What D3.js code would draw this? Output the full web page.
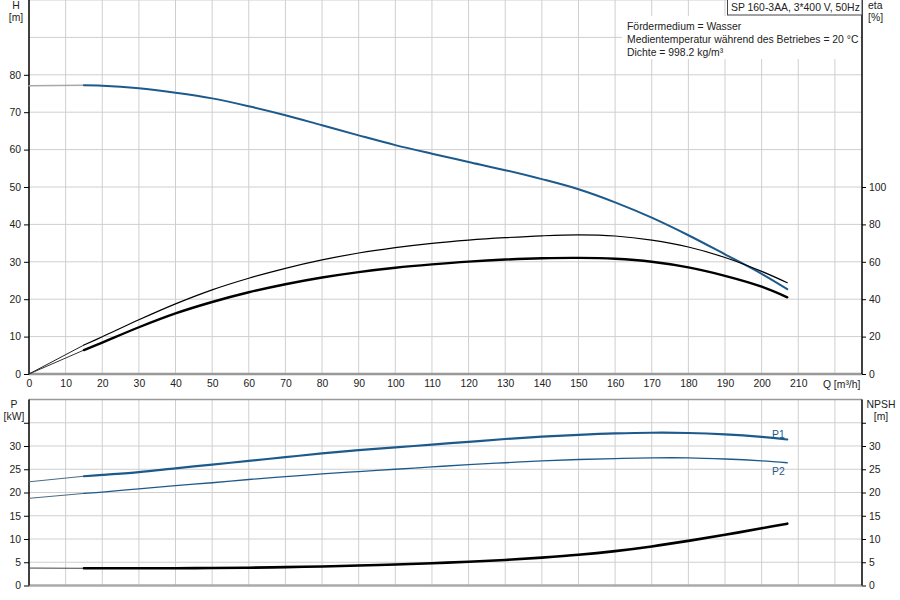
<!DOCTYPE html>
<html>
<head>
<meta charset="utf-8">
<script src="https://cdn.jsdelivr.net/npm/d3@7"></script>
<style>
  body { margin: 0; background: #fff; }
  svg { display: block; font-family: "Liberation Sans", Arial, sans-serif; }
  .grid line { stroke: #cfcfcf; stroke-width: 1; }
  .axis text { font-size: 10.4px; fill: #222; }
  .axis path { display: none; }
  .axis line { stroke: #000; }
  .lbl { font-size: 10.4px; fill: #222; }
</style>
</head>
<body>
<div id="chart"></div>
<script>
// flow points (m3/h) where the curves are drawn
const flow = [15, 20, 30, 40, 50, 60, 70, 80, 90, 100, 110, 120, 130, 140, 150, 160, 170, 180, 190, 200, 207];
const head = [77.2, 77.1, 76.4, 75.2, 73.7, 71.6, 69.2, 66.5, 63.8, 61.2, 58.9, 56.7, 54.5, 52.1, 49.4, 45.9, 41.8, 37.1, 32.0, 26.8, 22.7];
const etaPump = [15.5, 19.9, 29.0, 37.5, 45.0, 51.2, 56.5, 61.0, 64.7, 67.6, 69.9, 71.6, 72.9, 73.9, 74.4, 73.8, 71.6, 67.9, 62.3, 54.9, 48.8];
const etaTotal = [12.8, 16.8, 25.0, 32.4, 38.5, 43.7, 48.0, 51.6, 54.5, 56.8, 58.6, 60.1, 61.2, 61.9, 62.1, 61.6, 60.0, 57.0, 52.5, 46.7, 41.0];
const powerP1 = [23.5, 23.8, 24.4, 25.2, 26.0, 26.8, 27.6, 28.4, 29.1, 29.7, 30.3, 30.9, 31.5, 32.0, 32.4, 32.7, 32.85, 32.8, 32.5, 31.95, 31.4];
const powerP2 = [19.8, 20.1, 20.8, 21.5, 22.1, 22.8, 23.4, 24.0, 24.5, 25.0, 25.5, 26.0, 26.4, 26.8, 27.1, 27.3, 27.45, 27.45, 27.2, 26.8, 26.4];
const npsh = [3.7, 3.7, 3.7, 3.72, 3.76, 3.82, 3.95, 4.1, 4.3, 4.5, 4.8, 5.1, 5.5, 6.0, 6.6, 7.4, 8.4, 9.6, 10.9, 12.3, 13.3];

// thin extensions from Q = 0 to the start of the curves
const flowExt = [0, 15];
const headExt = [77.1, 77.2];
const etaPumpExt = [0, 15.5];
const etaTotalExt = [0, 12.8];
const p1Ext = [22.3, 23.5];
const p2Ext = [18.75, 19.8];
const npshExt = [3.75, 3.7];

const qTicks = [0, 10, 20, 30, 40, 50, 60, 70, 80, 90, 100, 110, 120, 130, 140, 150, 160, 170, 180, 190, 200, 210];
const hTicks = [0, 10, 20, 30, 40, 50, 60, 70, 80];
const etaTicks = [0, 20, 40, 60, 80, 100];
const pTicks = [0, 5, 10, 15, 20, 25, 30, 35];

const title = 'SP 160-3AA, 3*400 V, 50Hz';
const notes = ['Fördermedium = Wasser', 'Medientemperatur während des Betriebes = 20 °C', 'Dichte = 998.2 kg/m³'];

const W = 900, H = 600;
const left = 29, right = 862;
const blue = '#1d5a8c';

const svg = d3.select('#chart').append('svg').attr('width', W).attr('height', H);

const x = d3.scaleLinear().domain([0, 227.4]).range([left, right]);
const yH = d3.scaleLinear().domain([0, 100]).range([374, 0]);
const yEta = d3.scaleLinear().domain([0, 200]).range([374, 0]);
const yP = d3.scaleLinear().domain([0, 40]).range([585.5, 399.5]);

function grid(yScale, yVals, top, bottom) {
  const g = svg.append('g').attr('class', 'grid');
  g.selectAll('line.v').data(d3.range(10, 230, 10)).enter().append('line')
    .attr('x1', d => x(d)).attr('x2', d => x(d))
    .attr('y1', top).attr('y2', bottom);
  g.selectAll('line.h').data(yVals).enter().append('line')
    .attr('x1', left).attr('x2', right)
    .attr('y1', d => yScale(d)).attr('y2', d => yScale(d));
}

grid(yH, d3.range(10, 101, 10), 0, 374);
grid(yP, d3.range(5, 40, 5), 399.5, 585.5);

// top panel axes
svg.append('g').attr('class', 'axis').attr('transform', `translate(${left},0)`)
  .call(d3.axisLeft(yH).tickValues(hTicks).tickSize(5).tickPadding(3));
svg.append('g').attr('class', 'axis').attr('transform', `translate(${right},0)`)
  .call(d3.axisRight(yEta).tickValues(etaTicks).tickSize(4).tickPadding(3));
svg.append('g').attr('class', 'axis').attr('transform', 'translate(0,374)')
  .call(d3.axisBottom(x).tickValues(qTicks).tickSize(0).tickPadding(6));

// bottom panel axes
svg.append('g').attr('class', 'axis').attr('transform', `translate(${left},0)`)
  .call(d3.axisLeft(yP).tickValues(pTicks).tickSize(5).tickPadding(3)
    .tickFormat(d => d === 35 ? '' : d));
svg.append('g').attr('class', 'axis').attr('transform', `translate(${right},0)`)
  .call(d3.axisRight(yP).tickValues(pTicks).tickSize(4).tickPadding(3)
    .tickFormat(d => d === 35 ? '' : d));

// frame lines
const frame = svg.append('g');
frame.append('line').attr('x1', left).attr('x2', right).attr('y1', 374).attr('y2', 374)
  .attr('stroke', '#999').attr('stroke-width', 2.5);
frame.append('line').attr('x1', left).attr('x2', right).attr('y1', 585.5).attr('y2', 585.5)
  .attr('stroke', '#aaa').attr('stroke-width', 2.5);
frame.append('line').attr('x1', left).attr('x2', right).attr('y1', 399.5).attr('y2', 399.5)
  .attr('stroke', '#999').attr('stroke-width', 1.5);
[left, right].forEach(px => {
  frame.append('line').attr('x1', px).attr('x2', px).attr('y1', 0).attr('y2', 374)
    .attr('stroke', '#000').attr('stroke-width', 1.5);
  frame.append('line').attr('x1', px).attr('x2', px).attr('y1', 399.5).attr('y2', 585.5)
    .attr('stroke', '#000').attr('stroke-width', 1.5);
});

// Q unit label in place of the 220 tick
svg.append('text').attr('class', 'lbl').attr('x', x(220) - 12).attr('y', 388).text('Q [m³/h]');

// curves
function curve(qs, vals, yScale, color, width) {
  const pts = qs.map((q, i) => [x(q), yScale(vals[i])]);
  svg.append('path').datum(pts)
    .attr('d', d3.line().curve(d3.curveCatmullRom.alpha(0.5)))
    .attr('fill', 'none').attr('stroke', color).attr('stroke-width', width)
    .attr('stroke-linecap', 'round');
}

curve(flowExt, headExt, yH, '#a8a8a8', 1.5);
curve(flow, head, yH, blue, 2);
curve(flowExt, etaPumpExt, yEta, '#222', 1);
curve(flow, etaPump, yEta, '#000', 1.2);
curve(flowExt, etaTotalExt, yEta, '#333', 1);
curve(flow, etaTotal, yEta, '#000', 2.4);

curve(flowExt, p1Ext, yP, '#4a6a85', 1);
curve(flow, powerP1, yP, blue, 2.2);
curve(flowExt, p2Ext, yP, '#4a6a85', 1);
curve(flow, powerP2, yP, blue, 1.3);
curve(flowExt, npshExt, yP, '#444', 1);
curve(flow, npsh, yP, '#000', 2.6);

svg.append('text').attr('class', 'lbl').attr('x', 772).attr('y', 438).style('fill', blue).text('P1');
svg.append('text').attr('class', 'lbl').attr('x', 772).attr('y', 475).style('fill', blue).text('P2');

// axis titles
const titles = [
  ['H', 16, 9, 'middle'], ['[m]', 16, 21, 'middle'],
  ['eta', 868, 9, 'start'], ['[%]', 868, 21, 'start'],
  ['P', 14, 408, 'middle'], ['[kW]', 14, 420, 'middle'],
  ['NPSH', 881, 408, 'middle'], ['[m]', 881, 420, 'middle']
];
titles.forEach(t => {
  svg.append('text').attr('class', 'lbl').attr('x', t[1]).attr('y', t[2])
    .attr('text-anchor', t[3]).text(t[0]);
});

// info box
svg.append('rect').attr('x', 622).attr('y', 16).attr('width', 238).attr('height', 43).attr('fill', '#fff');
notes.forEach((n, i) => {
  svg.append('text').attr('class', 'lbl').attr('x', 627).attr('y', 30 + i * 13).text(n);
});
svg.append('rect').attr('x', 727.5).attr('y', -1).attr('width', 134.5).attr('height', 16)
  .attr('fill', '#fff').attr('stroke', '#444').attr('stroke-width', 1);
svg.append('text').attr('class', 'lbl').attr('x', 731).attr('y', 11).text(title);
</script>
</body>
</html>
